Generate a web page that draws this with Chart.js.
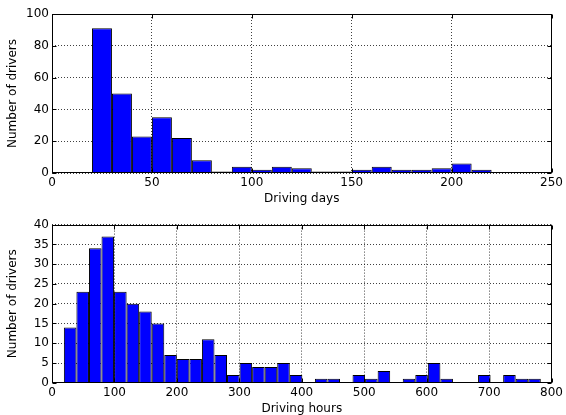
<!DOCTYPE html>
<html>
<head>
<meta charset="utf-8">
<script src="https://cdn.jsdelivr.net/npm/chart.js@4/dist/chart.umd.min.js"></script>
<style>
    html, body { margin: 0; padding: 0; background: #fff; overflow: hidden; width: 566px; height: 415px; }
    canvas { position: absolute; left: 0; }
    #daysChart { top: 0; }
    #hoursChart { top: 207px; }
</style>
</head>
<body>
<canvas id="daysChart" width="566" height="207"></canvas>
<canvas id="hoursChart" width="566" height="230"></canvas>
<script>
// Гистограмма 1: дни вождения (ширина корзины 10)
const daysBinEdges = [20, 30, 40, 50, 60, 70, 80, 90, 100, 110, 120, 130, 140, 150, 160, 170, 180, 190, 200, 210, 220];
const daysCounts = [91, 50, 23, 35, 22, 8, 1, 4, 2, 4, 3, 1, 1, 2, 4, 2, 2, 3, 6, 2];
const daysTicksX = [0, 50, 100, 150, 200, 250];
const daysTicksY = [0, 20, 40, 60, 80, 100];

// Гистограмма 2: часы вождения (38 корзин)
const hoursFirstEdge = 19;
const hoursBinWidth = 20.1;
const hoursCounts = [14, 23, 34, 37, 23, 20, 18, 15, 7, 6, 6, 11, 7, 2, 5, 4, 4, 5, 2, 0,
                     1, 1, 0, 2, 1, 3, 0, 1, 2, 5, 1, 0, 0, 2, 0, 2, 1, 1];
const hoursTicksX = [0, 100, 200, 300, 400, 500, 600, 700, 800];
const hoursTicksY = [0, 5, 10, 15, 20, 25, 30, 35, 40];

Chart.defaults.font.family = '"DejaVu Sans", sans-serif';
Chart.defaults.font.size = 12;
Chart.defaults.color = '#000';

/**
 * Рамка вокруг области графика и короткие засечки внутрь (как в matplotlib)
 */
const framePlugin = {
    id: 'frame',
    afterDatasetsDraw(chart) {
        const { ctx, chartArea: a, scales: { x, y } } = chart;
        const L = Math.round(a.left) + 0.5, R = Math.round(a.right) - 0.5;
        const T = Math.round(a.top) + 0.5, B = Math.round(a.bottom) - 0.5;
        ctx.save();
        ctx.strokeStyle = '#000';
        ctx.lineWidth = 1;
        ctx.beginPath();
        x.ticks.forEach(t => {
            const px = Math.round(x.getPixelForValue(t.value)) + 0.5;
            ctx.moveTo(px, B); ctx.lineTo(px, B - 4);
            ctx.moveTo(px, T); ctx.lineTo(px, T + 4);
        });
        y.ticks.forEach(t => {
            const py = Math.round(y.getPixelForValue(t.value)) + 0.5;
            ctx.moveTo(L, py); ctx.lineTo(L + 4, py);
            ctx.moveTo(R, py); ctx.lineTo(R - 4, py);
        });
        ctx.stroke();
        ctx.strokeRect(L, T, R - L, B - T);
        ctx.restore();
    }
};

function buildHistogram(canvasId, points, opts) {
    const ctx = document.getElementById(canvasId).getContext('2d');
    return new Chart(ctx, {
        type: 'bar',
        data: {
            datasets: [{
                data: points,
                backgroundColor: '#0000ff',
                borderColor: '#000',
                borderWidth: 1,
                barPercentage: 1,
                categoryPercentage: 1,
                inflateAmount: 0
            }]
        },
        options: {
            responsive: false,
            animation: false,
            devicePixelRatio: 1,
            layout: { padding: { left: 0, right: 14, top: opts.padTop, bottom: 0 } },
            plugins: { legend: { display: false }, tooltip: { enabled: false } },
            scales: {
                x: {
                    type: 'linear',
                    offset: false,
                    min: opts.xTicks[0],
                    max: opts.xTicks[opts.xTicks.length - 1],
                    afterBuildTicks: s => { s.ticks = opts.xTicks.map(v => ({ value: v })); },
                    afterFit: s => { s.height = opts.xHeight; },
                    grid: { offset: false, color: 'rgba(0,0,0,0.75)', drawTicks: false },
                    border: { display: false, dash: [1, 2] },
                    ticks: { padding: 3, maxRotation: 0, autoSkip: false },
                    title: { display: true, text: opts.xTitle, padding: { top: 0, bottom: opts.xTitlePad } }
                },
                y: {
                    min: opts.yTicks[0],
                    max: opts.yTicks[opts.yTicks.length - 1],
                    afterBuildTicks: s => { s.ticks = opts.yTicks.map(v => ({ value: v })); },
                    afterFit: s => { s.width = 52; },
                    grid: { color: 'rgba(0,0,0,0.75)', drawTicks: false },
                    border: { display: false, dash: [1, 2] },
                    ticks: { padding: 3, autoSkip: false },
                    title: { display: true, text: 'Number of drivers', padding: { top: 6, bottom: 0 } }
                }
            }
        },
        plugins: [framePlugin]
    });
}

// точки столбцов — центры корзин
const daysPoints = daysCounts.map((c, i) => ({ x: (daysBinEdges[i] + daysBinEdges[i + 1]) / 2, y: c }));
const hoursPoints = hoursCounts.map((c, i) => ({ x: hoursFirstEdge + hoursBinWidth * (i + 0.5), y: c }));

buildHistogram('daysChart', daysPoints, {
    xTicks: daysTicksX, yTicks: daysTicksY, xTitle: 'Driving days',
    padTop: 14, xHeight: 34, xTitlePad: 1
});
buildHistogram('hoursChart', hoursPoints, {
    xTicks: hoursTicksX, yTicks: hoursTicksY, xTitle: 'Driving hours',
    padTop: 17.6, xHeight: 54.2, xTitlePad: 21
});
</script>
</body>
</html>
